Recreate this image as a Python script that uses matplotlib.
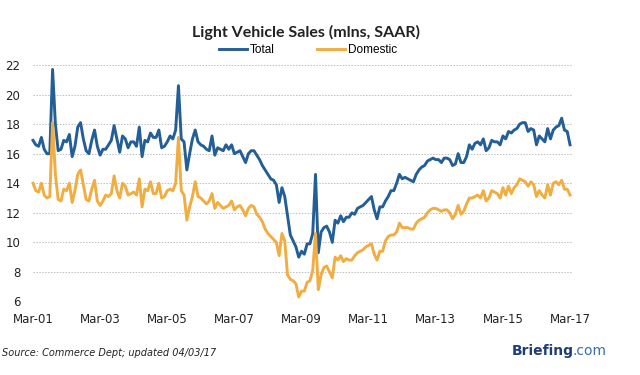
import matplotlib
matplotlib.use("Agg")
import matplotlib.pyplot as plt
import numpy as np

# Monthly data, Mar-2001 .. Mar-2017 (193 months)
total = [
    16.9, 16.6, 16.5, 17.1, 16.3, 16.0, 16.0, 21.7, 18.0, 16.2,
    16.3, 16.9, 16.8, 17.3, 15.8, 16.5, 17.8, 18.1, 17.0, 16.2,
    16.0, 16.9, 17.6, 16.5, 15.9, 16.3, 16.3, 16.6, 16.9, 17.9,
    17.0, 16.1, 17.2, 17.0, 16.4, 16.8, 16.8, 16.5, 17.8, 15.8,
    16.9, 16.8, 17.4, 17.1, 17.1, 17.6, 16.4, 16.5, 16.8, 17.2,
    17.0, 17.6, 20.6, 17.0, 16.8, 14.9, 16.0, 17.0, 17.6, 16.8,
    16.6, 16.5, 16.3, 16.2, 17.2, 15.9, 16.4,
    16.3, 16.2, 16.6, 16.3, 16.6, 16.0, 16.1, 16.2, 15.8, 15.4,
    16.0, 16.2, 16.2, 15.9, 15.6, 15.2, 14.9, 14.6, 14.3, 14.2,
    13.9, 12.7, 13.7, 13.1, 11.8, 10.5, 10.1, 9.7, 9.0, 9.4,
    9.2, 9.9, 9.9, 10.6, 14.6, 9.3, 10.7, 11.0, 11.1, 10.7,
    10.0, 11.5, 11.3, 11.8, 11.4, 11.7, 11.7, 12.0, 11.9, 12.3,
    12.4, 12.5, 12.7, 12.9, 13.1, 12.2, 11.6, 12.4, 12.4, 12.8,
    13.1, 13.5, 13.5, 14.0, 14.6, 14.3, 14.4, 14.3, 14.2, 14.1,
    14.6, 14.9,
    15.1, 15.2, 15.5, 15.6, 15.7, 15.6, 15.6, 15.4, 15.7, 15.7,
    15.6, 15.2, 15.3, 16.0, 15.4, 15.4, 15.8, 16.6, 16.3, 16.7,
    16.8, 16.6, 17.0, 16.2, 16.4, 16.9, 16.8, 16.8, 16.6, 17.2,
    17.0, 17.5, 17.4, 17.6, 17.7, 18.0, 18.1, 18.1, 17.5, 17.7,
    17.6, 16.6, 17.2, 17.0, 16.8, 17.7, 17.0, 17.6, 17.8, 17.9,
    18.4, 17.6, 17.5, 16.6,
]

domestic = [
    14.0, 13.5, 13.4, 14.0, 13.2, 13.0, 13.1, 18.1, 14.6, 12.9,
    12.8, 13.6, 13.5, 14.0, 12.7, 13.5, 14.6, 14.9, 13.9, 12.9,
    12.8, 13.6, 14.2, 12.8, 12.5, 12.8, 13.2, 13.1, 13.3, 14.5,
    13.5, 13.0, 14.0, 13.8, 13.2, 13.3, 13.4, 13.2, 14.3, 12.4,
    13.6, 13.5, 14.1, 13.3, 13.3, 14.0, 13.0, 13.1, 13.5, 13.6,
    13.5, 14.0, 17.1, 13.5, 13.2, 11.5, 12.4, 13.1, 14.1, 13.1,
    13.0, 12.8, 12.6, 12.8, 13.3, 12.3, 12.7,
    12.5, 12.3, 12.4, 12.5, 12.8, 12.2, 12.4, 12.5, 12.2, 11.8,
    12.3, 12.5, 12.4, 11.9, 11.7, 11.4, 10.9, 10.6, 10.4, 10.2,
    10.0, 9.1, 10.6, 10.1, 7.8, 7.5, 7.4, 7.2, 6.3, 6.7,
    6.7, 7.3, 7.4, 8.1, 10.6, 6.8, 7.8, 8.3, 8.4, 8.0,
    7.6, 9.0, 8.8, 9.1, 8.7, 8.9, 8.8, 8.8, 9.1, 9.3,
    9.4, 9.5, 9.7, 9.8, 9.9, 9.2, 8.8, 9.4, 9.4, 10.1,
    10.4, 10.5, 10.5, 10.7, 11.3, 11.0, 11.0, 11.0, 10.9, 10.9,
    11.3, 11.5,
    11.6, 11.7, 12.0, 12.2, 12.3, 12.3, 12.2, 12.1, 12.2, 12.2,
    12.0, 11.6, 11.9, 12.5, 11.9, 12.1, 12.6, 13.0, 13.0, 13.1,
    13.2, 13.0, 13.5, 12.8, 13.0, 13.5, 13.4, 13.3, 13.0, 13.7,
    13.2, 13.8, 13.3, 13.7, 13.9, 14.3, 14.2, 14.1, 13.8, 14.1,
    13.9, 13.1, 13.5, 13.2, 13.0, 13.9, 13.2, 14.0, 14.1, 13.9,
    14.2, 13.6, 13.6, 13.2,
]

tick_labels = ["Mar-01", "Mar-03", "Mar-05", "Mar-07", "Mar-09",
               "Mar-11", "Mar-13", "Mar-15", "Mar-17"]
y_ticks = [6, 8, 10, 12, 14, 16, 18, 20, 22]

assert len(total) == 193 and len(domestic) == 193
months = np.arange(len(total))

BLUE = "#245E96"
ORANGE = "#F0AD42"

fig = plt.figure(figsize=(6.4, 3.75), dpi=100)
ax = fig.add_axes([33 / 640, 1 - 301.5 / 375, (572 - 33) / 640, (301.5 - 65) / 375])

ax.plot(months, total, color=BLUE, lw=2.1, label="Total", clip_on=False, zorder=3)
ax.plot(months, domestic, color=ORANGE, lw=2.1, label="Domestic", clip_on=False, zorder=3)

ax.set_xlim(0, 192.7)
ax.set_ylim(6, 22)
ax.set_yticks(y_ticks)
ax.set_yticklabels([str(v) for v in y_ticks])
ax.set_xticks(np.arange(0, 193, 24))
ax.set_xticklabels(tick_labels)
ax.yaxis.grid(True, linestyle=(0, (1.5, 1.5)), color="#bdbdbd", lw=0.7)
ax.set_axisbelow(True)
for s in ax.spines.values():
    s.set_visible(False)
ax.tick_params(axis="both", length=0, labelsize=8.5, colors="#222222")
ax.tick_params(axis="y", pad=9)
ax.tick_params(axis="x", pad=8)

fig.text(0.478, 0.913, "Light Vehicle Sales (mlns, SAAR)", ha="center", va="center",
         fontsize=11.5, fontweight="bold", color="#222222", family="Lato")
fig.legend(loc="center", bbox_to_anchor=(0.481, 0.867), ncol=2, frameon=False,
           prop={"family": "Liberation Sans", "size": 8.5},
           handlelength=2.4, handletextpad=0.2, columnspacing=3.6)

fig.text(0.003, 0.058, "Source: Commerce Dept; updated 04/03/17", ha="left", va="center",
         fontsize=7, style="italic", color="#222222")
t1 = fig.text(0.80, 0.063, "Briefing", ha="left", va="center", fontsize=10,
              fontweight="bold", color="#1E3F73")
fig.canvas.draw()
bb = t1.get_window_extent()
fig.text((bb.x1 - 2) / 640, 0.063, ".com", ha="left", va="center", fontsize=10, color="#3A6DAE")

fig.savefig("out.png", dpi=100)
